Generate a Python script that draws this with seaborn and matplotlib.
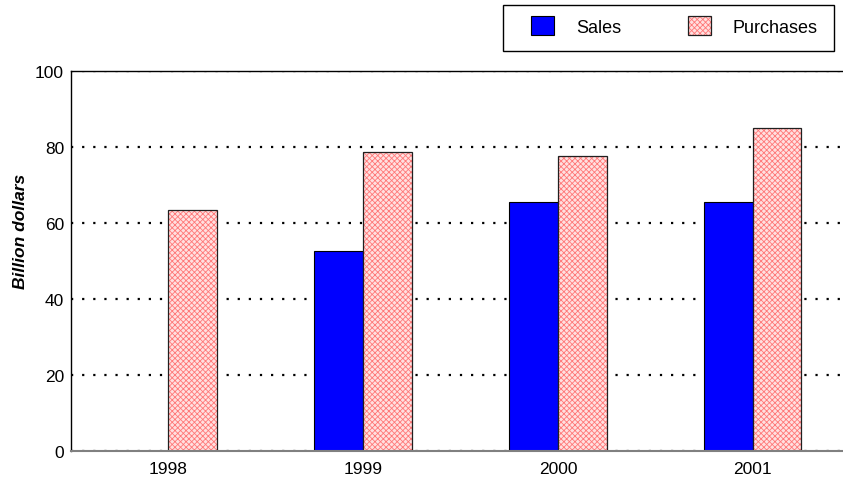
import matplotlib
matplotlib.use('Agg')
import matplotlib.pyplot as plt
from matplotlib.patches import Rectangle
from matplotlib.legend_handler import HandlerTuple
import numpy as np
import pandas as pd
import seaborn as sns

years = ['1998', '1999', '2000', '2001']
sales = [np.nan, 52.7, 65.6, 65.6]
purchases = [63.5, 78.7, 77.6, 85.0]

df = pd.DataFrame({
	'year': years * 2,
	'series': ['Sales'] * 4 + ['Purchases'] * 4,
	'value': sales + purchases,
})

sns.set_style('white')
plt.rcParams['font.family'] = ['Liberation Sans', 'DejaVu Sans']
plt.rcParams['hatch.linewidth'] = 0.6
plt.rcParams['text.color'] = 'black'
plt.rcParams['axes.labelcolor'] = 'black'
plt.rcParams['xtick.color'] = 'black'
plt.rcParams['ytick.color'] = 'black'

HATCH_FILL = '#ffe0e0'
HATCH_LINE = '#ff7878'

fig = plt.figure(figsize=(8.43, 4.81), dpi=100)
# axes run past the right edge of the picture, as in the reference
ax = fig.add_axes([71/843, 29/481, 779/843, 380/481])

sns.barplot(data=df, x='year', y='value', hue='series', order=years,
			hue_order=['Sales', 'Purchases'], palette=['#0000ff', HATCH_FILL],
			width=0.5, saturation=1, edgecolor='black', linewidth=0.8,
			legend=False, ax=ax)

# purchases: red fine crosshatch, black outline drawn on top
for p in ax.containers[1]:
	p.set_hatch('xxxxxx')
	p.set_edgecolor(HATCH_LINE)
	p.set_linewidth(0)
	ax.add_patch(Rectangle(p.get_xy(), p.get_width(), p.get_height(),
						   fill=False, edgecolor='#202020', linewidth=0.9, zorder=p.get_zorder() + 0.1))

ax.set_xlim(-0.5, 3.5)
ax.set_ylim(0, 100)
ax.set_yticks([0, 20, 40, 60, 80, 100])
ax.yaxis.grid(True, linestyle=(0, (1, 4)), color='black', linewidth=1.6)
ax.set_axisbelow(True)
ax.tick_params(axis='y', length=0, labelsize=12.5, pad=5)
ax.tick_params(axis='x', length=0, labelsize=12.5, pad=7)
ax.set_xticks([0.5, 1.5, 2.5], minor=True)
ax.tick_params(axis='x', which='minor', length=3, direction='out', color='black')

for side in ['top', 'left']:
	ax.spines[side].set_color('black')
	ax.spines[side].set_linewidth(1)
ax.spines['bottom'].set_color('#808080')
ax.spines['bottom'].set_linewidth(1.5)
ax.spines['right'].set_visible(False)

ax.set_xlabel('')
ax.set_ylabel('Billion dollars', fontsize=12.5, fontweight='bold', fontstyle='italic')
ax.yaxis.set_label_coords(-0.055, 0.58)

# legend box
fig.patches.append(Rectangle((503/843, 1 - 52/481), 331/843, 46/481, transform=fig.transFigure,
							 fill=False, edgecolor='black', linewidth=1))
h_sales = Rectangle((0, 0), 1, 1, facecolor='#0000ff', edgecolor='black', linewidth=0.8)
h_fill = Rectangle((0, 0), 1, 1, facecolor=HATCH_FILL, edgecolor=HATCH_LINE, hatch='xxxxxx', linewidth=0)
h_edge = Rectangle((0, 0), 1, 1, fill=False, edgecolor='#202020', linewidth=0.9)
leg = fig.legend(handles=[h_sales, (h_fill, h_edge)], labels=['Sales', 'Purchases'],
				 handler_map={tuple: HandlerTuple(ndivide=1, pad=0)},
				 ncol=2, loc='upper left', bbox_to_anchor=(531/843, 1 - 17/481),
				 frameon=False, fontsize=13,
				 handlelength=1.28, handleheight=1.28, handletextpad=1.2,
				 columnspacing=3.7, borderpad=0, borderaxespad=0)

plt.savefig('out.png', dpi=100)
